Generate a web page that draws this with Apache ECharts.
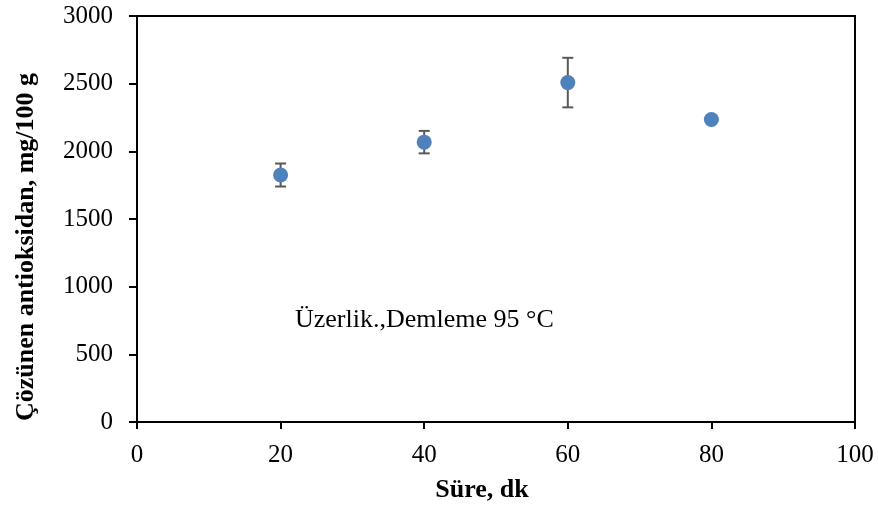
<!DOCTYPE html>
<html>
<head>
<meta charset="utf-8">
<script src="https://cdn.jsdelivr.net/npm/echarts@6/dist/echarts.min.js"></script>
<style>
  html, body { margin: 0; padding: 0; background: #fff; }
  #chart { width: 878px; height: 511px; }
</style>
</head>
<body>
<div id="chart"></div>
<script>
// Brewing time (min) and dissolved antioxidant (mg/100 g)
const times = [20, 40, 60, 80];
const values = [1825, 2068, 2508, 2235];
// Standard deviation for each point (0 = no bar drawn)
const errors = [85, 83, 183, 0];

const xTicks = [0, 20, 40, 60, 80, 100];
const yTicks = [0, 500, 1000, 1500, 2000, 2500, 3000];

const font = '"Liberation Serif", "Times New Roman", serif';

const chart = echarts.init(document.getElementById('chart'));

const points = times.map((t, i) => [t, values[i]]);
const bars = times.map((t, i) => [t, values[i] - errors[i], values[i] + errors[i]]);

chart.setOption({
  animation: false,
  grid: {
    left: 137, right: 23, top: 16, bottom: 89,
    show: true, borderColor: '#000', borderWidth: 2
  },
  xAxis: {
    type: 'value',
    min: xTicks[0], max: xTicks[xTicks.length - 1], interval: 20,
    name: 'Süre, dk',
    nameLocation: 'middle',
    nameGap: 55,
    nameTextStyle: { fontFamily: font, fontWeight: 'bold', fontSize: 26, color: '#000', padding: [0, 28, 0, 0] },
    axisLine: { show: true, lineStyle: { color: '#000', width: 2 } },
    axisTick: { show: true, inside: false, length: 7, lineStyle: { color: '#000', width: 2 } },
    axisLabel: { fontFamily: font, fontSize: 25, color: '#000', margin: 21, formatter: v => String(v) },
    splitLine: { show: false }
  },
  yAxis: {
    type: 'value',
    min: yTicks[0], max: yTicks[yTicks.length - 1], interval: 500,
    name: 'Çözünen antioksidan, mg/100 g',
    nameLocation: 'middle',
    nameGap: 98,
    nameRotate: 90,
    nameTextStyle: { fontFamily: font, fontWeight: 'bold', fontSize: 26, color: '#000', padding: [0, 56, 0, 0] },
    axisLine: { show: true, lineStyle: { color: '#000', width: 2 } },
    axisTick: { show: true, inside: false, length: 8, lineStyle: { color: '#000', width: 2 } },
    axisLabel: { fontFamily: font, fontSize: 25, color: '#000', margin: 24, formatter: v => String(v) },
    splitLine: { show: false }
  },
  series: [
    {
      type: 'custom',
      name: 'error',
      data: bars,
      z: 3,
      renderItem: function (params, api) {
        const x = api.value(0);
        const lo = api.value(1);
        const hi = api.value(2);
        if (hi === lo) return null;
        const pLo = api.coord([x, lo]);
        const pHi = api.coord([x, hi]);
        const cap = 5.5;
        const style = { stroke: '#595959', lineWidth: 2 };
        return {
          type: 'group',
          children: [
            { type: 'line', shape: { x1: pLo[0], y1: pLo[1], x2: pHi[0], y2: pHi[1] }, style: style },
            { type: 'line', shape: { x1: pLo[0] - cap, y1: pLo[1], x2: pLo[0] + cap, y2: pLo[1] }, style: style },
            { type: 'line', shape: { x1: pHi[0] - cap, y1: pHi[1], x2: pHi[0] + cap, y2: pHi[1] }, style: style }
          ]
        };
      }
    },
    {
      type: 'scatter',
      name: 'values',
      data: points,
      symbol: 'circle',
      symbolSize: 15,
      z: 5,
      itemStyle: { color: '#4f81bd', opacity: 1 }
    }
  ],
  graphic: [
    {
      type: 'text',
      left: 295,
      top: 307,
      style: {
        text: 'Üzerlik.,Demleme 95 °C',
        font: '26px ' + font,
        fill: '#000'
      }
    }
  ]
});
</script>
</body>
</html>
